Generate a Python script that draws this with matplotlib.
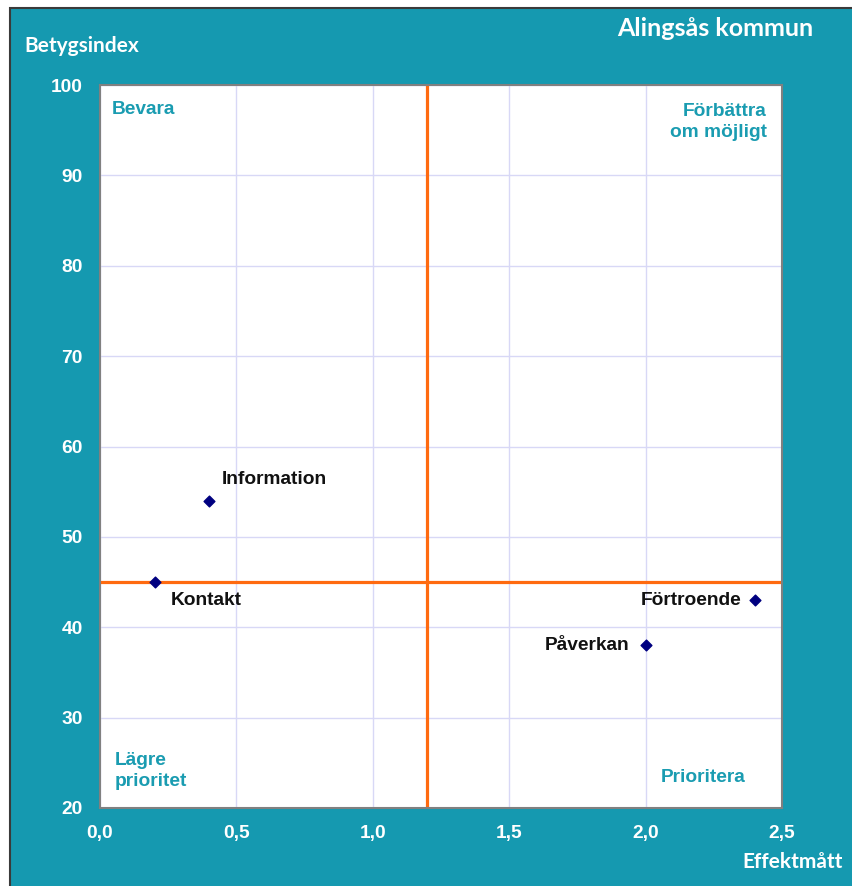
import matplotlib
matplotlib.use("Agg")
import matplotlib.pyplot as plt
from matplotlib.patches import Rectangle

# Data
names = ["Information", "Kontakt", "Förtroende", "Påverkan"]
effekt = [0.4, 0.2, 2.4, 2.0]
betyg = [54, 45, 43, 38]
label_offsets = [(9, 15, "left"), (11.5, -13, "left"), (-9.5, 0, "right"), (-11.5, 0, "right")]
xticks = [0.0, 0.5, 1.0, 1.5, 2.0, 2.5]
xtick_labels = ["0,0", "0,5", "1,0", "1,5", "2,0", "2,5"]
yticks = [20, 30, 40, 50, 60, 70, 80, 90, 100]
x_split = 1.2
y_split = 45

W, H = 852, 886
TEAL = "#1599b0"
QTEAL = "#1a9cb1"
FS = 13.8
fig = plt.figure(figsize=(W / 100, H / 100), dpi=100, facecolor="white")

# teal background panel
fig.patches.append(Rectangle((10 / W, -0.01), 1.0, (H - 8) / H + 0.01, transform=fig.transFigure,
                             facecolor=TEAL, edgecolor="#3a3a3a", linewidth=1.5, zorder=-10))

ax = fig.add_axes([100 / W, (H - 808) / H, 682 / W, 723 / H])
ax.set_zorder(1)
ax.set_facecolor("white")
ax.set_xlim(0, 2.5)
ax.set_ylim(20, 100)
ax.set_xticks(xticks)
ax.set_xticklabels(xtick_labels)
ax.set_yticks(yticks)
ax.grid(True, color="#d8d8f6", linewidth=1.0, zorder=0)
ax.set_axisbelow(True)
for s in ax.spines.values():
    s.set_color("#808080")
    s.set_linewidth(1.5)
ax.tick_params(axis="both", length=0, colors="white", labelsize=FS)
ax.tick_params(axis="x", pad=12.5)
ax.tick_params(axis="y", pad=12.5)
for lab in ax.get_xticklabels() + ax.get_yticklabels():
    lab.set_fontweight("bold")
    lab.set_fontfamily("Liberation Sans")

ax.axvline(x_split, color="#ff6a0f", linewidth=2.3, zorder=2)
ax.axhline(y_split, color="#ff6a0f", linewidth=2.3, zorder=2)

ax.scatter(effekt, betyg, marker="D", s=30, color="#000080", zorder=3)
for n, x, y, (dx, dy, ha) in zip(names, effekt, betyg, label_offsets):
    ax.annotate(n, (x, y), xytext=(dx, dy), textcoords="offset points", ha=ha, va="center",
                fontsize=FS, fontweight="bold", family="Liberation Sans", color="#111111")

def ftext(x, y, s, **kw):
    fig.text(x / W, 1 - y / H, s, zorder=5, **kw)

qkw = dict(fontsize=FS, fontweight="bold", family="Liberation Sans", color=QTEAL, va="center", linespacing=1.3)
ftext(112, 109, "Bevara", ha="left", **qkw)
ftext(767, 122, "Förbättra\nom möjligt", ha="right", multialignment="right", **qkw)
ftext(115, 771, "Lägre\nprioritet", ha="left", multialignment="left", **qkw)
ftext(703, 777, "Prioritera", ha="center", **qkw)

tkw = dict(fontweight="bold", family="Lato", color="white", va="center")
ftext(813, 28, "Alingsås kommun", ha="right", fontsize=18, **tkw)
ftext(24, 46, "Betygsindex", ha="left", fontsize=15, **tkw)
ftext(843, 862, "Effektmått", ha="right", fontsize=15, **tkw)

fig.savefig("out.png", dpi=100, facecolor=fig.get_facecolor())
